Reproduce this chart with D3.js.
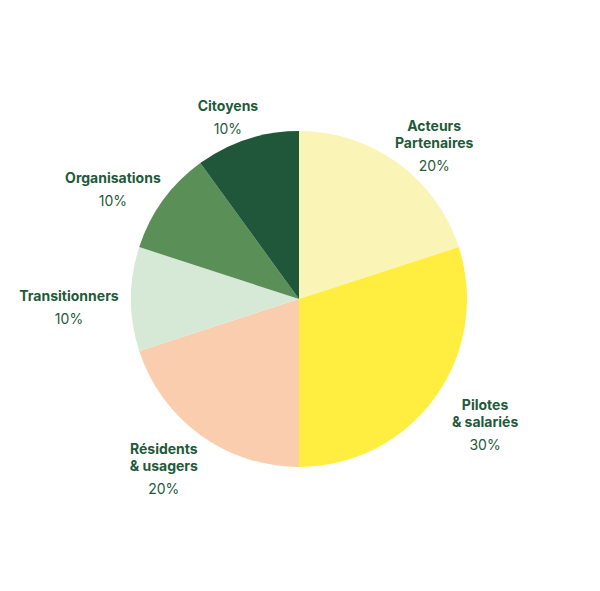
<!DOCTYPE html>
<html><head><meta charset="utf-8">
<script src="https://cdn.jsdelivr.net/npm/d3@7"></script>
<style>body{margin:0;background:#fff}</style></head>
<body><svg id="c" width="600" height="591"></svg>
<script>
const labels = [["Acteurs","Partenaires"],["Pilotes","& salariés"],["Résidents","& usagers"],["Transitionners"],["Organisations"],["Citoyens"]];
const values = [20,30,20,10,10,10];
const colors = ["#FAF4B7","#FFEE3F","#F9CDAD","#D6E9D6","#5A8F58","#20573B"];
const svg = d3.select("#c");
const g = svg.append("g").attr("transform","translate(299,299)");
const pie = d3.pie().sort(null).value(d=>d)(values);
const arc = d3.arc().innerRadius(0).outerRadius(168);
g.selectAll("path").data(pie).join("path").attr("d",arc).attr("fill",(d,i)=>colors[i]);
pie.forEach((d,i)=>{
  const a=(d.startAngle+d.endAngle)/2;
  const x=Math.sin(a)*230, y=-Math.cos(a)*200+10;
  const lines=labels[i];
  const n=lines.length;
  const top=y-(n*17+23)/2+12;
  const t=g.append("text").attr("text-anchor","middle").attr("font-family","Inter, 'Open Sans', sans-serif").attr("fill","#1F5A3A").attr("font-size",14);
  lines.forEach((l,k)=>t.append("tspan").attr("x",x).attr("y",top+k*17).attr("font-weight",700).text(l));
  t.append("tspan").attr("x",x).attr("y",top+(n-1)*17+23).text(values[i]+"%");
});
</script></body></html>
